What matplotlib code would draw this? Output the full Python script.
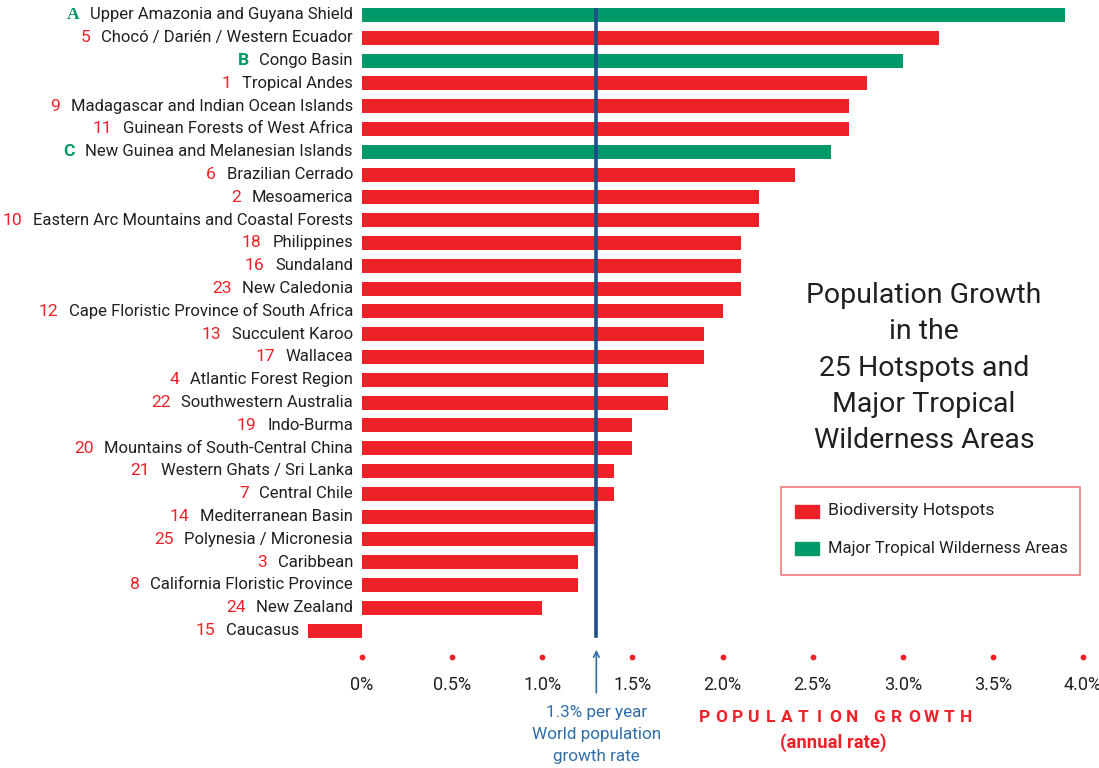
import matplotlib.pyplot as plt
import matplotlib.patches as mpatches

codes = ["A", "5", "B", "1", "9", "11", "C", "6", "2", "10", "18", "16", "23", "12",
         "13", "17", "4", "22", "19", "20", "21", "7", "14", "25", "3", "8", "24", "15"]
names = ["Upper Amazonia and Guyana Shield", "Chocó / Darién / Western Ecuador",
         "Congo Basin", "Tropical Andes", "Madagascar and Indian Ocean Islands",
         "Guinean Forests of West Africa", "New Guinea and Melanesian Islands",
         "Brazilian Cerrado", "Mesoamerica", "Eastern Arc Mountains and Coastal Forests",
         "Philippines", "Sundaland", "New Caledonia", "Cape Floristic Province of South Africa",
         "Succulent Karoo", "Wallacea", "Atlantic Forest Region", "Southwestern Australia",
         "Indo-Burma", "Mountains of South-Central China", "Western Ghats / Sri Lanka",
         "Central Chile", "Mediterranean Basin", "Polynesia / Micronesia", "Caribbean",
         "California Floristic Province", "New Zealand", "Caucasus"]
growth = [3.9, 3.2, 3.0, 2.8, 2.7, 2.7, 2.6, 2.4, 2.2, 2.2, 2.1, 2.1, 2.1, 2.0,
          1.9, 1.9, 1.7, 1.7, 1.5, 1.5, 1.4, 1.4, 1.3, 1.3, 1.2, 1.2, 1.0, -0.3]
wilderness = ["A", "B", "C"]
ticks = [0, 0.5, 1.0, 1.5, 2.0, 2.5, 3.0, 3.5, 4.0]
tick_labels = ["0%", "0.5%", "1.0%", "1.5%", "2.0%", "2.5%", "3.0%", "3.5%", "4.0%"]
world_rate = 1.3

RED = "#EE2129"
GREEN = "#00996A"
TEXT = "#231F20"
BLUE = "#1F4E8C"
LBLUE = "#2E6DA8"

plt.rcParams['font.family'] = ["Roboto", "DejaVu Sans"]

fig = plt.figure(figsize=(10.99, 7.68), dpi=100)
ax = fig.add_axes([0, 0, 1, 1])
ax.axis("off")

# pixel mapping: 0% at x=362, 1% = 180.25 px; row i at y = 15 + 22.8 i
xs = 180.25
ax.set_xlim(-362 / xs, (1099 - 362) / xs)
ax.set_ylim((768 - 15) / 22.8, -15 / 22.8)

rows = list(range(len(names)))
colors = [GREEN if c in wilderness else RED for c in codes]
ax.barh(rows, growth, height=0.62, color=colors)

for i, (c, n, v) in enumerate(zip(codes, names, growth)):
    t = ax.annotate(n, xy=(min(0, v), i), xytext=(-6.5, 0), textcoords="offset points",
                    ha="right", va="center", fontsize=12.0, color=TEXT)
    is_w = c in wilderness
    ax.annotate(c, xy=(0, 0.5), xycoords=t, xytext=(-7.5, 0), textcoords="offset points",
                ha="right", va="center", fontsize=12.6, color=GREEN if is_w else RED,
                fontweight="bold" if is_w else "normal",
                family=["Liberation Serif"] if c == "A" else None)

# world rate line
ax.plot([world_rate, world_rate], [-0.2, 27.25], color=BLUE, lw=2.6)
ax.annotate("", xy=(world_rate, 27.72), xytext=(world_rate, 29.85),
            arrowprops=dict(arrowstyle="->", color=LBLUE, lw=1.2))
ax.text(world_rate, 31.55, "1.3% per year\nWorld population\ngrowth rate", ha="center",
        va="center", fontsize=12.3, color=LBLUE, linespacing=1.58)

# axis dots and labels
ax.scatter(ticks, [28.15] * len(ticks), s=10, color=RED, zorder=3)
for tv, tl in zip(ticks, tick_labels):
    ax.text(tv, 29.4, tl, ha="center", va="center", fontsize=13, color=TEXT)

# spaced axis title, letter by letter
for k, ch in enumerate("POPULATION"):
    fig.text((705 + 16.3 * k) / 1099, 1 - 718 / 768, ch, ha="center", va="center",
             fontsize=12.5, color=RED, fontweight="bold")
for k, ch in enumerate("GROWTH"):
    fig.text((879 + 17.4 * k) / 1099, 1 - 718 / 768, ch, ha="center", va="center",
             fontsize=12.5, color=RED, fontweight="bold")
fig.text(833 / 1099, 1 - 743 / 768, "(annual rate)", ha="center", va="center",
         fontsize=13.3, color=RED, fontweight="bold")

# title
fig.text(924 / 1099, 1 - 368 / 768,
         "Population Growth\nin the\n25 Hotspots and\nMajor Tropical\nWilderness Areas",
         ha="center", va="center", fontsize=20.5, color=TEXT, linespacing=1.43)

# legend box
fig.patches.append(mpatches.Rectangle((781 / 1099, 1 - 575 / 768), 299 / 1099, 88 / 768,
                                      transform=fig.transFigure, fill=False,
                                      edgecolor="#F07C80", lw=1.2))
for y, col, lab, fs in [(511, RED, "Biodiversity Hotspots", 12.6),
                        (548, GREEN, "Major Tropical Wilderness Areas", 12)]:
    fig.patches.append(mpatches.Rectangle((795 / 1099, 1 - (y + 7) / 768), 24 / 1099, 13 / 768,
                                          transform=fig.transFigure, color=col))
    fig.text(828 / 1099, 1 - y / 768, lab, ha="left", va="center", fontsize=fs, color=TEXT)

fig.savefig("out.png", dpi=100)
